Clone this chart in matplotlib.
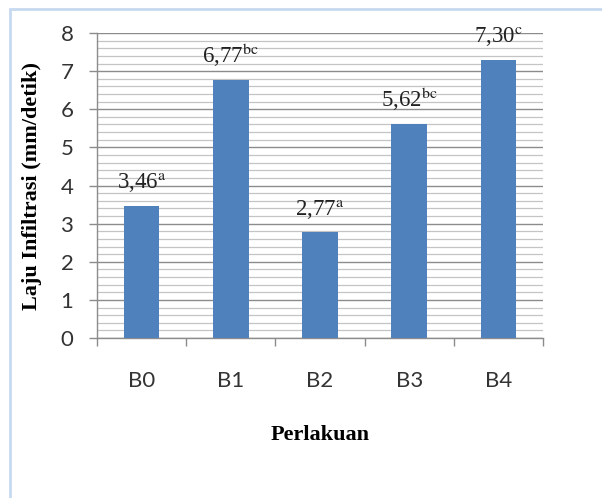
import matplotlib.pyplot as plt
import numpy as np
from matplotlib.patches import Rectangle

plt.rcParams['mathtext.fontset'] = 'stix'

# laju infiltrasi per perlakuan
perlakuan = ['B0', 'B1', 'B2', 'B3', 'B4']
laju = [3.46, 6.77, 2.77, 5.62, 7.30]
notasi = ['a', 'bc', 'a', 'bc', 'c']

BAR_COLOR = '#4F81BD'
GRID_MAJOR = '#8c8c8c'
GRID_MINOR = '#c4c4c4'
AXIS_COLOR = '#8c8c8c'

fig = plt.figure(figsize=(6.02, 4.98), dpi=100)
ax = fig.add_axes([97 / 602, 1 - 338 / 498, (543 - 97) / 602, (338 - 33) / 498])

x = np.arange(len(perlakuan))
bars = ax.bar(x, laju, width=0.4, color=BAR_COLOR, zorder=3)

# label angka + huruf notasi di atas batang
for xi, val, huruf in zip(x, laju, notasi):
    teks = f"{val:.2f}".replace('.', ',') + r"$^{\mathrm{" + huruf + "}}$"
    ax.annotate(teks, (xi, val), xytext=(0, 12), textcoords='offset points',
                ha='center', va='baseline', fontsize=16.5,
                family='Liberation Serif', color='#222222')

ax.set_ylim(0, 8)
ax.set_xlim(-0.5, 4.5)

# sumbu y: garis utama tiap 1, garis bantu tiap 0.2
ax.set_yticks(np.arange(0, 9, 1))
ax.set_yticks(np.arange(0, 8.01, 0.2), minor=True)
ax.yaxis.grid(True, which='major', color=GRID_MAJOR, linewidth=1.0, zorder=0)
ax.yaxis.grid(True, which='minor', color=GRID_MINOR, linewidth=0.9, zorder=0)
ax.set_axisbelow(True)
ax.tick_params(axis='y', which='major', direction='out', length=6, width=1,
               color=AXIS_COLOR, pad=11, labelsize=16, labelcolor='#333333')
ax.tick_params(axis='y', which='minor', length=0)
for lbl in ax.get_yticklabels():
    lbl.set_family('Lato')

# sumbu x: tanda di batas kategori, label di tengah
ax.set_xticks(np.arange(-0.5, 5, 1))
ax.set_xticklabels([])
ax.set_xticks(x, minor=True)
ax.set_xticklabels(perlakuan, minor=True, family='Lato', fontsize=16, color='#333333')
ax.tick_params(axis='x', which='major', direction='out', length=6, width=1, color=AXIS_COLOR)
ax.tick_params(axis='x', which='minor', length=0, pad=24)

for side in ['top', 'right']:
    ax.spines[side].set_visible(False)
for side in ['left', 'bottom']:
    ax.spines[side].set_color(AXIS_COLOR)
    ax.spines[side].set_linewidth(1)

ax.set_ylabel('Laju Infiltrasi (mm/detik)', family='Liberation Serif',
              fontweight='bold', fontsize=16, labelpad=13)
ax.set_xlabel('Perlakuan', family='Liberation Serif', fontweight='bold',
              fontsize=16, labelpad=24)

# bingkai tipis biru muda
fig.add_artist(Rectangle((9.5 / 602, -0.1), 1.2, 1 - 9.5 / 498 + 0.1,
                         transform=fig.transFigure, fill=False,
                         edgecolor='#c6d9f1', linewidth=2))

fig.savefig('out.png', dpi=100)
